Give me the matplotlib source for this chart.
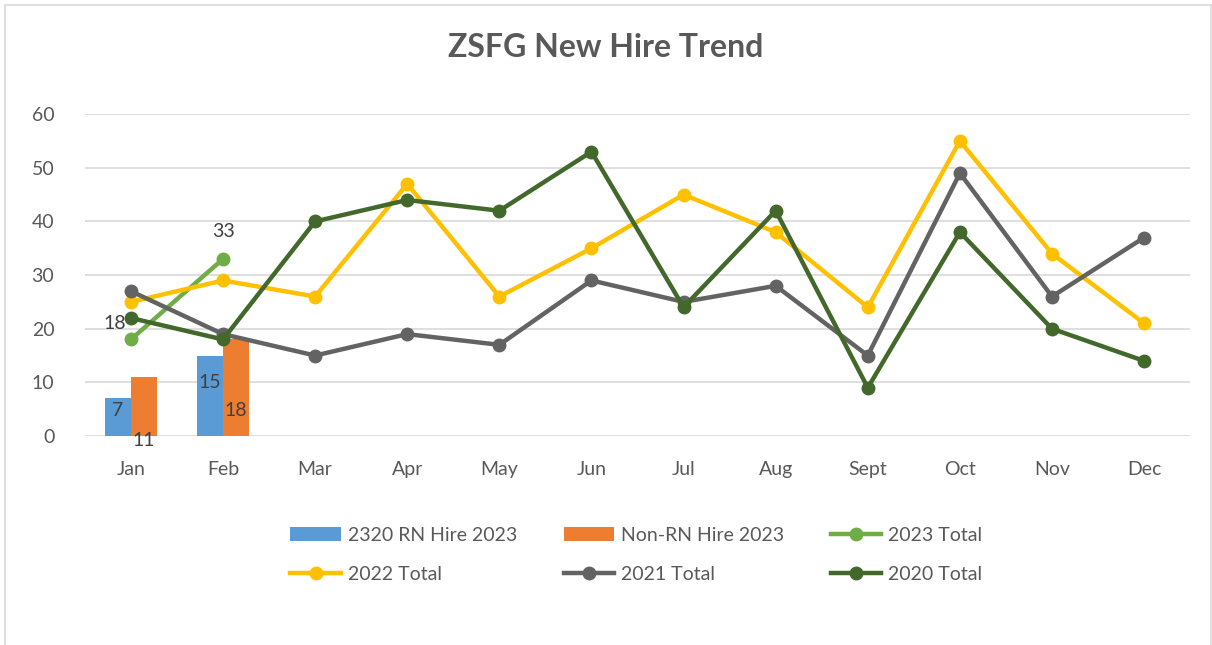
import numpy as np
import matplotlib.pyplot as plt
from matplotlib.patches import Rectangle

months = ["Jan", "Feb", "Mar", "Apr", "May", "Jun", "Jul", "Aug", "Sept", "Oct", "Nov", "Dec"]
rn_2023 = [7, 15]
non_rn_2023 = [11, 18]
total_2023 = [18, 33]
total_2022 = [25, 29, 26, 47, 26, 35, 45, 38, 24, 55, 34, 21]
total_2021 = [27, 19, 15, 19, 17, 29, 25, 28, 15, 49, 26, 37]
total_2020 = [22, 18, 40, 44, 42, 53, 24, 42, 9, 38, 20, 14]

plt.rcParams['font.family'] = ['Lato', 'DejaVu Sans']
txt = '#595959'

fig = plt.figure(figsize=(12.12, 6.45), dpi=100)
fig.patches.append(Rectangle((0.004, -0.01), 0.995, 1.002, transform=fig.transFigure,
                             fill=False, edgecolor='#D9D9D9', linewidth=1.2))
ax = fig.add_axes([0.070, 0.324, 0.912, 0.499])

x = np.arange(len(months))
w = 0.28
xb = x[:len(rn_2023)]
ax.bar(xb - w / 2, rn_2023, w, color='#5B9BD5', label='2320 RN Hire 2023', zorder=2)
ax.bar(xb + w / 2, non_rn_2023, w, color='#ED7D31', label='Non-RN Hire 2023', zorder=2)

lw, ms = 3.2, 9
l23, = ax.plot(x[:len(total_2023)], total_2023, color='#70AD47', lw=lw, marker='o', ms=ms, label='2023 Total', zorder=3)
l22, = ax.plot(x, total_2022, color='#FFC000', lw=lw, marker='o', ms=ms, label='2022 Total', zorder=3)
l21, = ax.plot(x, total_2021, color='#636363', lw=lw, marker='o', ms=ms, label='2021 Total', zorder=3)
l20, = ax.plot(x, total_2020, color='#43682B', lw=lw, marker='o', ms=ms, label='2020 Total', zorder=4)

# data labels (Excel-style placement)
fs = 14
ax.text(x[0] - 0.05, total_2023[0] + 3.0, str(total_2023[0]), ha='right', va='center', fontsize=fs, color='#404040', zorder=5)
ax.text(x[1], total_2023[1] + 3.6, str(total_2023[1]), ha='center', va='bottom', fontsize=fs, color='#404040', zorder=5)
rn_label_y = [4.7, 9.9]
non_rn_label_y = [-0.8, 4.8]
for i in range(len(rn_2023)):
    ax.text(xb[i] - w / 2, rn_label_y[i], str(rn_2023[i]), ha='center', va='center', fontsize=fs, color='#404040', zorder=5)
    ax.text(xb[i] + w / 2, non_rn_label_y[i], str(non_rn_2023[i]), ha='center', va='center', fontsize=fs, color='#404040', zorder=5)

ax.set_xlim(-0.5, len(months) - 0.5)
ax.set_ylim(0, 60)
ax.set_yticks(range(0, 61, 10))
ax.set_xticks(x)
ax.set_xticklabels(months)
ax.tick_params(length=0, labelsize=14, colors=txt, pad=18)
ax.tick_params(axis='y', pad=22)
ax.grid(axis='y', color='#D9D9D9', lw=1.2, zorder=0)
for s in ax.spines.values():
    s.set_visible(False)
ax.set_axisbelow(True)

fig.text(0.5, 0.926, "ZSFG New Hire Trend", ha='center', va='center', fontsize=23,
         fontweight='bold', color=txt)

handles, labels = ax.get_legend_handles_labels()
order = {l: h for h, l in zip(handles, labels)}
names = ['2320 RN Hire 2023', '2022 Total', 'Non-RN Hire 2023', '2021 Total', '2023 Total', '2020 Total']
leg = fig.legend([order[n] for n in names], names, ncol=3, loc='center',
                 bbox_to_anchor=(0.525, 0.140), frameon=False, fontsize=14,
                 handlelength=2.6, handletextpad=0.35, columnspacing=2.4,
                 labelspacing=1.15, labelcolor=txt)

fig.savefig("out.png", dpi=100)
